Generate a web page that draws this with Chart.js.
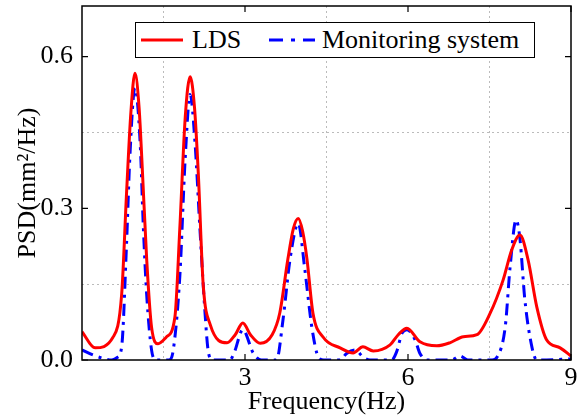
<!DOCTYPE html>
<html>
<head>
<meta charset="utf-8">
<script src="https://cdn.jsdelivr.net/npm/chart.js@4.4.1/dist/chart.umd.min.js"></script>
<style>
    body { margin: 0; background: #fff; }
    #wrap { position: relative; width: 583px; height: 420px; }
    #legendBox {
        position: absolute; left: 135px; top: 22px; width: 398px; height: 34px;
        border: 1.5px solid #000; background: #fff;
        font-family: "Liberation Serif", "Times New Roman", serif; font-size: 26px; color: #000;
    }
    #legendBox svg { position: absolute; top: 12px; }
    #legendBox span { position: absolute; top: 0; line-height: 34px; white-space: nowrap; }
</style>
</head>
<body>
<div id="wrap">
    <canvas id="psdChart"></canvas>
    <div id="legendBox">
        <svg style="left:5px" width="42" height="10"><line x1="0" y1="5" x2="42" y2="5" stroke="#ff0000" stroke-width="3"/></svg>
        <span style="left:56px">LDS</span>
        <svg style="left:133px" width="46" height="10"><line x1="0" y1="5" x2="46" y2="5" stroke="#0000ff" stroke-width="3" stroke-dasharray="14,8,4,8"/></svg>
        <span style="left:186px">Monitoring system</span>
    </div>
</div>
<script>
// LDS curve (frequency in Hz, PSD in mm^2/Hz)
const ldsFreq = [0, 0.24, 0.57, 0.73, 0.82, 0.9, 0.975, 1.05, 1.10, 1.19, 1.28, 1.40, 1.55, 1.71, 1.80, 1.9, 1.99, 2.07, 2.14, 2.23, 2.36,
    2.67, 2.82, 2.96, 3.1, 3.28, 3.5, 3.64, 3.79, 3.89, 3.98, 4.06, 4.14, 4.25, 4.44, 4.75, 4.99, 5.17, 5.36, 5.67, 5.82, 5.98,
    6.22, 6.53, 6.77, 7.02, 7.27, 7.51, 7.75, 7.91, 8.06, 8.21, 8.37, 8.55, 8.8, 9];
const ldsPsd = [0.056, 0.024, 0.045, 0.13, 0.33, 0.49, 0.567, 0.5, 0.40, 0.20, 0.065, 0.032, 0.045, 0.085, 0.26, 0.48, 0.56, 0.5, 0.37, 0.15, 0.07,
    0.034, 0.05, 0.073, 0.05, 0.033, 0.05, 0.093, 0.20, 0.26, 0.28, 0.255, 0.20, 0.093, 0.045, 0.024, 0.014, 0.026, 0.018, 0.03, 0.05, 0.063,
    0.036, 0.028, 0.034, 0.046, 0.05, 0.092, 0.158, 0.218, 0.247, 0.198, 0.105, 0.04, 0.024, 0.008];

// Monitoring system curve
const monFreq = [0, 0.2, 0.4, 0.55, 0.65, 0.73, 0.82, 0.88, 0.975, 1.07, 1.13, 1.19, 1.28, 1.36, 1.6, 1.68, 1.80, 1.9, 1.99, 2.08, 2.17, 2.26, 2.32, 2.4,
    2.72, 2.8, 2.96, 3.15, 3.3, 3.58, 3.7, 3.83, 3.98, 4.1, 4.23, 4.35, 4.45, 4.75, 4.87, 5.03, 5.17, 5.3, 5.7, 5.79, 5.89, 5.98, 6.13, 6.22, 6.35,
    6.8, 6.96, 7.1, 7.55, 7.64, 7.79, 7.88, 7.99, 8.06, 8.15, 8.28, 8.37, 9];
const monPsd = [0.02, 0.01, 0.003, 0, 0.005, 0.026, 0.23, 0.40, 0.538, 0.43, 0.26, 0.13, 0.02, 0, 0, 0.02, 0.165, 0.40, 0.525, 0.43, 0.26, 0.1, 0.02, 0,
    0, 0.014, 0.06, 0.014, 0, 0, 0.08, 0.2, 0.27, 0.18, 0.065, 0.006, 0, 0, 0.013, 0.02, 0.006, 0, 0, 0.016, 0.053, 0.06, 0.04, 0.013, 0,
    0, 0.008, 0, 0, 0.006, 0.066, 0.185, 0.277, 0.24, 0.12, 0.026, 0, 0.002];

const xMajor = [3, 6, 9];
const yMajor = [0, 0.3, 0.6];

const serif = '"Liberation Serif", "Times New Roman", serif';
const isMajor = (v, list) => list.some(m => Math.abs(v - m) < 1e-6);

// frame box + inward ticks
const framePlugin = {
    id: 'frame',
    afterDraw(chart) {
        const { ctx, chartArea: a, scales } = chart;
        ctx.save();
        ctx.strokeStyle = '#000';
        ctx.lineWidth = 1.5;
        ctx.strokeRect(a.left, a.top, a.right - a.left, a.bottom - a.top);
        ctx.lineWidth = 1.2;
        ctx.beginPath();
        xMajor.forEach(v => {
            const px = scales.x.getPixelForValue(v);
            ctx.moveTo(px, a.bottom); ctx.lineTo(px, a.bottom - 6);
            ctx.moveTo(px, a.top); ctx.lineTo(px, a.top + 6);
        });
        yMajor.forEach(v => {
            const py = scales.y.getPixelForValue(v);
            ctx.moveTo(a.left, py); ctx.lineTo(a.left + 6, py);
            ctx.moveTo(a.right, py); ctx.lineTo(a.right - 6, py);
        });
        ctx.stroke();
        ctx.restore();
    }
};

new Chart(document.getElementById('psdChart').getContext('2d'), {
    type: 'line',
    data: {
        datasets: [
            {
                label: 'LDS',
                data: ldsFreq.map((f, i) => ({ x: f, y: ldsPsd[i] })),
                borderColor: '#ff0000',
                borderWidth: 3,
                pointRadius: 0,
                cubicInterpolationMode: 'monotone'
            },
            {
                label: 'Monitoring system',
                data: monFreq.map((f, i) => ({ x: f, y: monPsd[i] })),
                borderColor: '#0000ff',
                borderWidth: 3,
                borderDash: [12, 6, 3, 6],
                pointRadius: 0,
                cubicInterpolationMode: 'monotone'
            }
        ]
    },
    options: {
        responsive: true,
        maintainAspectRatio: false,
        animation: false,
        layout: { padding: { top: 6, right: 12, left: 0, bottom: 0 } },
        plugins: { legend: { display: false }, tooltip: { enabled: false } },
        scales: {
            x: {
                type: 'linear',
                min: 0,
                max: 9,
                afterFit: s => { s.height = 60; s.paddingLeft = 0; s.paddingRight = 0; },
                ticks: {
                    stepSize: 1.5,
                    autoSkip: false,
                    maxRotation: 0,
                    padding: 3,
                    color: '#000',
                    font: { family: serif, size: 26 },
                    callback: v => isMajor(v, xMajor) ? String(v) : ''
                },
                grid: {
                    drawTicks: false,
                    color: c => (c.tick && !isMajor(c.tick.value, xMajor) && c.tick.value > 0) ? '#bbbbbb' : 'rgba(0,0,0,0)',
                    lineWidth: 1
                },
                border: { display: false, dash: [2, 3] },
                title: {
                    display: true,
                    text: 'Frequency(Hz)',
                    color: '#000',
                    font: { family: serif, size: 26 },
                    padding: { top: 0, bottom: 2 }
                }
            },
            y: {
                min: 0,
                max: 0.7,
                afterFit: s => { s.width = 82; s.paddingTop = 0; s.paddingBottom = 0; },
                ticks: {
                    stepSize: 0.15,
                    autoSkip: false,
                    padding: 9,
                    color: '#000',
                    font: { family: serif, size: 26 },
                    callback: v => isMajor(v, yMajor) ? v.toFixed(1) : ''
                },
                grid: {
                    drawTicks: false,
                    color: c => (c.tick && !isMajor(c.tick.value, yMajor) && c.tick.value < 0.69) ? '#bbbbbb' : 'rgba(0,0,0,0)',
                    lineWidth: 1
                },
                border: { display: false, dash: [2, 3] },
                title: {
                    display: true,
                    text: 'PSD(mm²/Hz)',
                    color: '#000',
                    font: { family: serif, size: 26 },
                    padding: { top: 13, bottom: 0 }
                }
            }
        }
    },
    plugins: [framePlugin]
});
</script>
</body>
</html>
